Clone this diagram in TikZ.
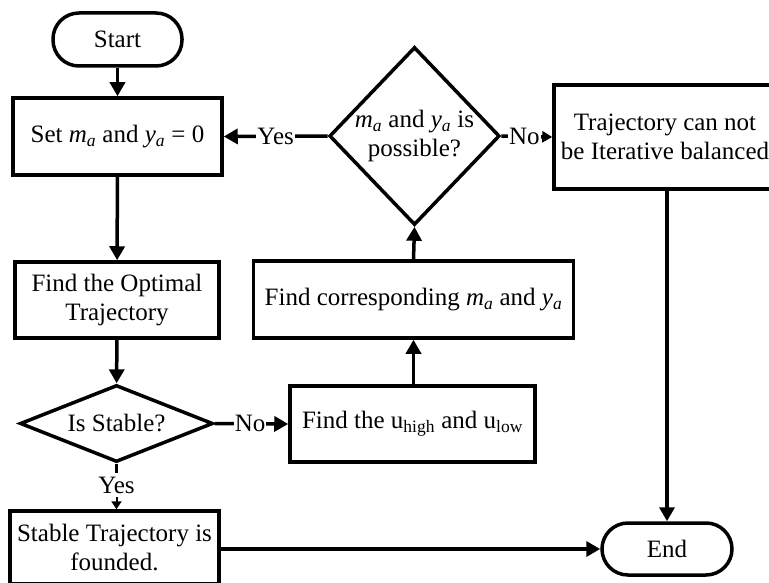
\documentclass[tikz,border=0pt]{standalone}
\usepackage{fontspec}
\setmainfont{Liberation Serif}
\usetikzlibrary{arrows.meta,shapes.geometric}
\newcommand{\ma}{\textit{m}\textsubscript{\textit{a}}}
\newcommand{\ya}{\textit{y}\textsubscript{\textit{a}}}
\tikzset{
  base/.style={draw, line width=3.5pt, inner sep=0pt, align=center, font=\fontsize{25}{28.5}\selectfont},
  box/.style={base, rectangle},
  term/.style={base, rectangle, rounded corners=26pt},
  dec/.style={base, diamond},
  conn/.style={line width=3.5pt, -{Triangle[length=14pt,width=15pt]}},
  plain/.style={line width=3.5pt},
  smallconn/.style={line width=3.5pt, -{Triangle[length=10pt,width=11pt]}},
  tinyconn/.style={line width=2pt, -{Triangle[length=8pt,width=10pt]}},
  lbl/.style={fill=white, inner sep=1pt, font=\fontsize{25}{28.5}\selectfont}
}
\begin{document}
\begin{tikzpicture}[x=1pt,y=-1pt]
\useasboundingbox (0,0) rectangle (769,583);
\node[term, minimum width=129pt, minimum height=53pt] (start) at (117.5,39.5) {Start};
\node[box, minimum width=209pt, minimum height=77pt] (set) at (117.5,136.5) {Set \ma{} and \ya{} = 0};
\node[box, minimum width=204pt, minimum height=76pt] (opt) at (117,300) {Find the Optimal\\Trajectory};
\node[dec, shape aspect=2.5, minimum width=193pt, minimum height=77pt] (stab) at (116.5,423.5) {Is Stable?};
\node[box, minimum width=209pt, minimum height=73pt] (stt) at (114.5,547.5) {Stable Trajectory is\\founded.};
\node[box, minimum width=245pt, minimum height=76pt] (findu) at (412.5,424) {Find the u\textsubscript{high} and u\textsubscript{low}};
\node[box, minimum width=320pt, minimum height=77pt] (corr) at (413.5,299.5) {Find corresponding \ma{} and \ya{}};
\node[dec, minimum width=159pt, minimum height=178pt] (poss) at (414.5,136) {\ma{} and \ya{} is\\possible?};
\node[box, minimum width=222pt, minimum height=104pt] (traj) at (665,137) {Trajectory can not\\be Iterative balanced};
\node[term, minimum width=130pt, minimum height=52pt] (end) at (667,549) {End};
\node[inner sep=0pt, font=\fontsize{25}{28.5}\selectfont, minimum height=24pt] (ylbl) at (116.5,485) {Yes};

\draw[conn] (start) -- (set);
\draw[conn] (set) -- (opt);
\draw[conn] (opt) -- (stab);
\draw[conn] (stab.east) -- node[lbl, pos=0.48] {No} (findu.west);
\draw[conn] (findu.north -| corr.south) -- (corr.south);
\draw[conn] (corr.north) -- (poss.south);
\draw[conn] (poss.west) -- node[lbl, pos=0.5] {Yes} (set.east);
\draw[smallconn] (poss.east) -- node[lbl, pos=0.45] {No} (traj.west);
\draw[conn] (end.north |- traj.south) -- (end.north);
\draw[plain] (stab.south) -- (ylbl.north);
\draw[tinyconn] (ylbl.south) -- (ylbl.south |- stt.north);
\draw[conn] (stt.east |- end.west) -- (end.west);
\end{tikzpicture}
\end{document}
